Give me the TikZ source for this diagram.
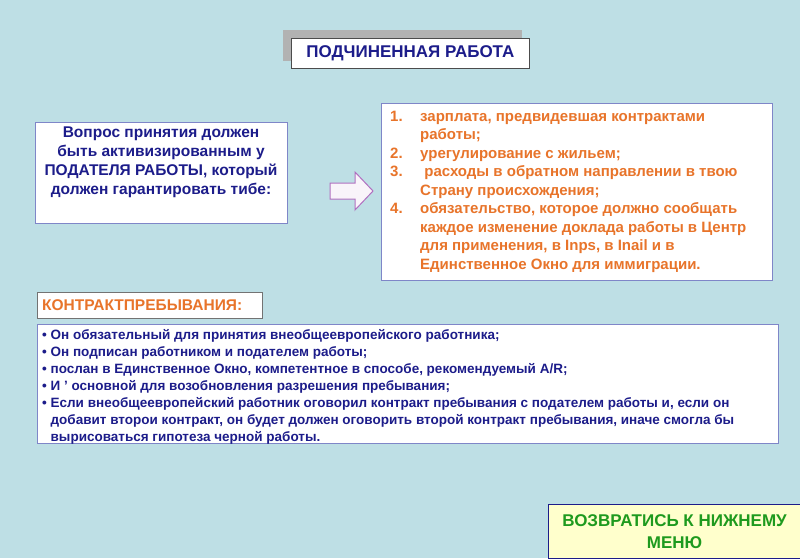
\documentclass[tikz,border=0pt]{standalone}
\usepackage{fontspec}
\setmainfont{Liberation Sans}
\definecolor{bg}{HTML}{BEDFE5}
\definecolor{navy}{HTML}{1C1C8A}
\definecolor{org}{HTML}{E8742A}
\definecolor{bbord}{HTML}{7F86C8}
\definecolor{grn}{HTML}{1E9A1E}
\definecolor{yel}{HTML}{FFFFCC}
\definecolor{arr}{HTML}{B070C0}
\tikzset{
  box/.style={draw=bbord, line width=1pt, fill=white},
  txt/.style={inner sep=0pt, font=\bfseries},
}
\begin{document}
\begin{tikzpicture}[x=1pt,y=-1pt]
\fill[bg] (0,0) rectangle (800,558);
\useasboundingbox (0,0) rectangle (800,558);
% title
\fill[gray!60] (283,30) rectangle (522,61);
\node[draw=black!70, line width=0.8pt, fill=white, minimum width=238pt, minimum height=30pt, anchor=north west, inner sep=0pt] (title) at (291,38) {};
\node[txt, text=navy, font=\bfseries\fontsize{17}{20}\selectfont] at (title.center) {ПОДЧИНЕННАЯ РАБОТА};
% left box
\node[box, minimum width=252pt, minimum height=101pt, anchor=north west, inner sep=0pt] (lb) at (35,122) {};
\node[txt, text=navy, align=center, anchor=north, font=\bfseries\fontsize{15.5}{19}\selectfont] at (161,127) {Вопрос принятия должен\\быть активизированным у\\ПОДАТЕЛЯ РАБОТЫ, который\\должен гарантировать тибе:};
% right box
\node[box, minimum width=391pt, minimum height=177pt, anchor=north west, inner sep=0pt] (rb) at (381,103) {};
% arrow
\draw[arr, fill=white!92!arr, line width=1pt] (330,183) -- (355,183) -- (355,172) -- (373,191) -- (355,210) -- (355,199) -- (330,199) -- cycle;
\begin{scope}[every node/.style={txt, text=org, anchor=base west, font=\bfseries\fontsize{15}{18.5}\selectfont}]
\node at (390,121) {1.};
\node at (420,121) {зарплата, предвидевшая контрактами};
\node at (420,139.5) {работы;};
\node at (390,158) {2.};
\node at (420,158) {урегулирование с жильем;};
\node at (390,176.5) {3.};
\node at (420,176.5) {\ расходы в обратном направлении в твою};
\node at (420,195) {Страну происхождения;};
\node at (390,213.5) {4.};
\node at (420,213.5) {обязательство, которое должно сообщать};
\node at (420,232) {каждое изменение доклада работы в Центр};
\node at (420,250.5) {для применения, в Inps, в Inail и в};
\node at (420,269) {Единственное Окно для иммиграции.};
\end{scope}
% contract label
\node[draw=black!55, line width=0.8pt, fill=white, minimum width=225pt, minimum height=26pt, anchor=north west, inner sep=0pt] (cl) at (37,292) {};
\node[txt, text=org, anchor=west, font=\bfseries\fontsize{15.5}{18}\selectfont] at (42,305) {КОНТРАКТПРЕБЫВАНИЯ:};
% bottom box
\node[box, minimum width=741pt, minimum height=119pt, anchor=north west, inner sep=0pt] (bb) at (37,324) {};
\node[txt, text=navy, anchor=north west, align=left, font=\bfseries\fontsize{13.5}{17}\selectfont] at (42,329)
{• Он обязательный для принятия внеобщеевропейского работника;\\
• Он подписан работником и подателем работы;\\
• послан в Единственное Окно, компетентное в способе, рекомендуемый A/R;\\
• И ' основной для возобновления разрешения пребывания;\\
• Если внеобщеевропейский работник оговорил контракт пребывания с подателем работы и, если он\\
\hphantom{• }добавит второи контракт, он будет должен оговорить второй контракт пребывания, иначе смогла бы\\
\hphantom{• }вырисоваться гипотеза черной работы.};
% return button
\node[draw=navy, line width=1.2pt, fill=yel, minimum width=252pt, minimum height=54pt, anchor=north west, inner sep=0pt] (btn) at (548,504) {};
\node[txt, text=grn, align=center, font=\bfseries\fontsize{17}{22}\selectfont] at (btn.center) {ВОЗВРАТИСЬ К НИЖНЕМУ\\МЕНЮ};
\end{tikzpicture}
\end{document}
